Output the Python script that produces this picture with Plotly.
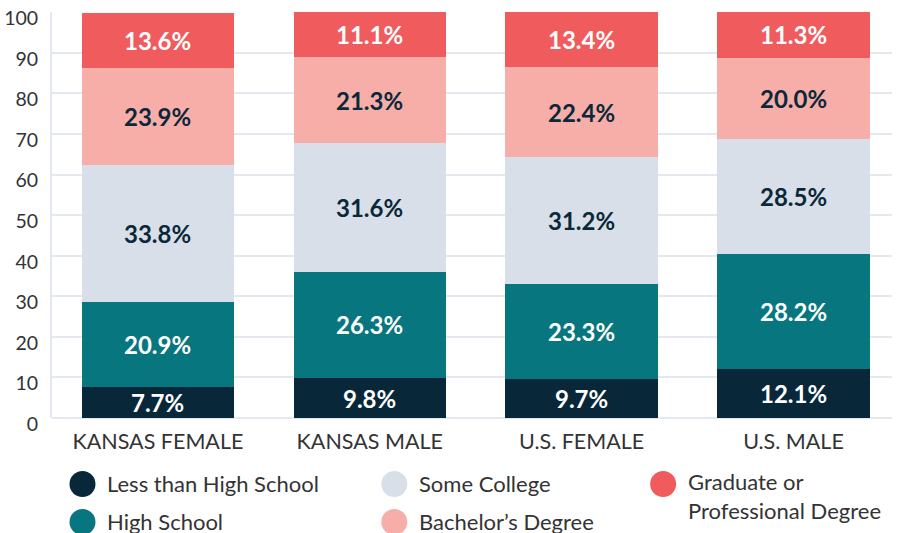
import plotly.graph_objects as go

categories = ["KANSAS FEMALE", "KANSAS MALE", "U.S. FEMALE", "U.S. MALE"]
series_names = ["Less than High School", "High School", "Some College",
                "Bachelor’s Degree", "Graduate or<br>Professional Degree"]
less_hs = [7.7, 9.8, 9.7, 12.1]
high_school = [20.9, 26.3, 23.3, 28.2]
some_college = [33.8, 31.6, 31.2, 28.5]
bachelors = [23.9, 21.3, 22.4, 20.0]
graduate = [13.6, 11.1, 13.4, 11.3]
y_ticks = list(range(0, 101, 10))

series_values = [less_hs, high_school, some_college, bachelors, graduate]
colors = ["#08283a", "#08767e", "#d9dfe8", "#f7aea8", "#f05b5e"]
label_colors = ["#ffffff", "#ffffff", "#0a2839", "#0a2839", "#ffffff"]

W, H = 903, 533
ml, mr, mt, mb = 51.5, 11, 12, 115
pw, ph = W - ml - mr, H - mt - mb

fig = go.Figure()
for name, vals, col in zip(series_names, series_values, colors):
    fig.add_trace(go.Bar(x=categories, y=vals, name=name, marker_color=col,
                         marker_line_width=0, showlegend=False, width=0.72))

annotations = []
cum = [0.0] * len(categories)
for vals, lc in zip(series_values, label_colors):
    for i, v in enumerate(vals):
        annotations.append(dict(x=categories[i], y=cum[i] + v / 2, xref="x", yref="y",
                                text=f"<b>{v:.1f}%</b>", showarrow=False,
                                yshift=0,
                                font=dict(family="Lato", size=24, color=lc)))
        cum[i] += v

def px2paper(px, py):
    return (px - ml) / pw, (H - mb - py) / ph

legend_pos = [(82, 484), (82, 522), (394, 484), (394, 522), (663, 484)]
legend_order = [0, 1, 2, 3, 4]
shapes = []
for idx, (cx, cy) in zip(legend_order, legend_pos):
    xa, ya = px2paper(cx, cy)
    shapes.append(dict(type="circle", xref="paper", yref="paper",
                       xsizemode="pixel", ysizemode="pixel",
                       xanchor=xa, yanchor=ya, x0=-13, x1=13, y0=-13, y1=13,
                       fillcolor=colors[idx], line_width=0))
    tx, ty = px2paper(cx + 23, cy - 1)
    if idx == 4:
        ty = px2paper(cx, cy + 12)[1]
    annotations.append(dict(x=tx, y=ty, xref="paper", yref="paper",
                            text=series_names[idx], showarrow=False,
                            xanchor="left", yanchor="middle", align="left",
                            font=dict(family="Lato", size=22, color="#333333")))

fig.update_layout(
    barmode="stack",
    width=W, height=H,
    autosize=False,
    margin=dict(l=ml, r=mr, t=mt, b=mb, pad=0, autoexpand=False),
    paper_bgcolor="white", plot_bgcolor="white",
    font=dict(family="Lato", color="#333333"),
    annotations=annotations,
    shapes=shapes,
    xaxis=dict(range=[-0.5, 3.465], showgrid=False, ticks="", automargin=False,
               tickfont=dict(family="Lato", size=21.5, color="#333333"),
               ticklabelstandoff=8, showline=False, zeroline=False),
    yaxis=dict(range=[0, 100.05], tickvals=y_ticks, ticks="", automargin=False,
               tickfont=dict(family="Lato", size=19.5, color="#333333"),
               gridcolor="#e4e8ef", gridwidth=1.5, showline=True,
               linecolor="#e4e8ef", linewidth=2, zeroline=True,
               zerolinecolor="#e4e8ef", zerolinewidth=2,
               ticklabeloverflow="allow",
               ticklabelstandoff=8, ticklabelshift=6),
)

fig.write_html("out.html", config={"displayModeBar": False},
               post_script="document.body.style.margin='0px';")
